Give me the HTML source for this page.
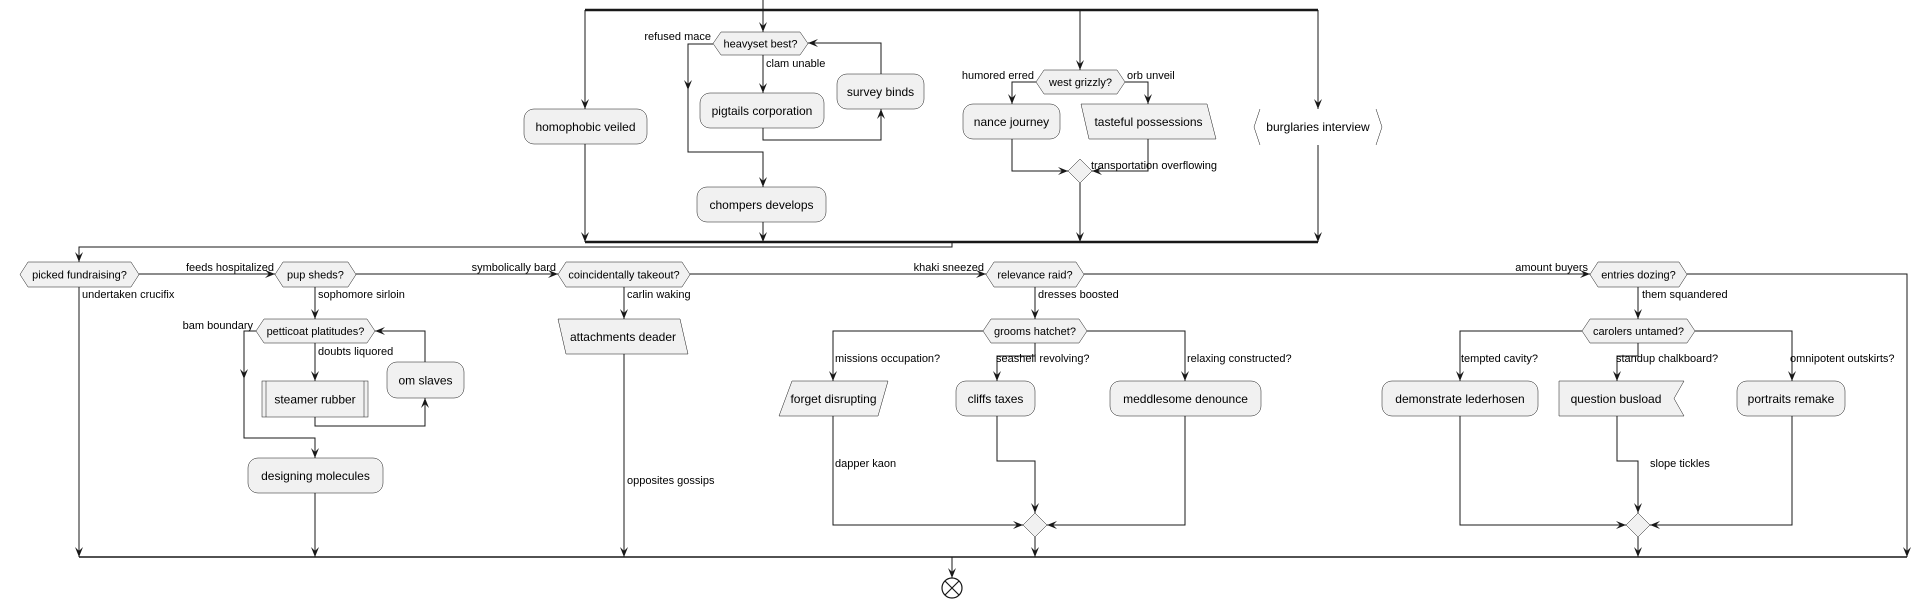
<!DOCTYPE html>
<html><head><meta charset="utf-8"><style>
html,body{margin:0;padding:0;background:#fff;}
svg{display:block;}
text{font-family:"Liberation Sans",sans-serif;font-size:11px;fill:#000;}
.b{font-size:12px;}
.n{fill:#f1f1f1;stroke:#181818;stroke-width:0.5;}
.l{fill:none;stroke:#181818;stroke-width:1;}
</style></head><body>
<svg width="1932" height="607" viewBox="0 0 1932 607" xmlns="http://www.w3.org/2000/svg">
<defs>
<marker id="a" markerUnits="userSpaceOnUse" markerWidth="10" markerHeight="8" refX="10" refY="4" orient="auto">
<path d="M0,0 L10,4 L0,8 L4,4 Z" fill="#181818"/>
</marker>
</defs>
<g class="l">
<!-- top fork -->
<path d="M763,0 V10"/>
<path d="M585,10 H1318" stroke-width="2.5"/>
<path d="M585,10 V109" marker-end="url(#a)"/>
<path d="M763,10 V32" marker-end="url(#a)"/>
<path d="M1080,10 V70" marker-end="url(#a)"/>
<path d="M1318,10 V109" marker-end="url(#a)"/>
<path d="M585,144 V242" marker-end="url(#a)"/>
<path d="M713,44 H688 V90" marker-end="url(#a)"/>
<path d="M688,90 V152 H763 V187" marker-end="url(#a)"/>
<path d="M763,55 V93" marker-end="url(#a)"/>
<path d="M763,128 V140 H881 V109" marker-end="url(#a)"/>
<path d="M881,74 V43 H808" marker-end="url(#a)"/>
<path d="M763,222 V242" marker-end="url(#a)"/>
<path d="M1036,82 H1012 V104" marker-end="url(#a)"/>
<path d="M1125,82 H1148 V104" marker-end="url(#a)"/>
<path d="M1012,139 V171 H1068" marker-end="url(#a)"/>
<path d="M1148,139 V171 H1092" marker-end="url(#a)"/>
<path d="M1080,183 V242" marker-end="url(#a)"/>
<path d="M1318,145 V242" marker-end="url(#a)"/>
<path d="M585,242 H1318" stroke-width="2.5"/>
<path d="M952,242 V247 H79 V262" marker-end="url(#a)"/>
<!-- main row -->
<path d="M139,274 H275" marker-end="url(#a)"/>
<path d="M356,274 H558" marker-end="url(#a)"/>
<path d="M690,274 H986" marker-end="url(#a)"/>
<path d="M1084,274 H1590" marker-end="url(#a)"/>
<path d="M1687,274 H1907 V557" marker-end="url(#a)"/>
<!-- col1 -->
<path d="M79,287 V557" marker-end="url(#a)"/>
<!-- col2 -->
<path d="M315,287 V319" marker-end="url(#a)"/>
<path d="M256,331 H244 V379" marker-end="url(#a)"/>
<path d="M244,379 V438 H315 V458" marker-end="url(#a)"/>
<path d="M315,343 V381" marker-end="url(#a)"/>
<path d="M315,417 V426 H425 V398" marker-end="url(#a)"/>
<path d="M425,362 V331 H375" marker-end="url(#a)"/>
<path d="M315,493 V557" marker-end="url(#a)"/>
<!-- col3 -->
<path d="M624,287 V319" marker-end="url(#a)"/>
<path d="M624,354 V557" marker-end="url(#a)"/>
<!-- col4 -->
<path d="M1035,287 V319" marker-end="url(#a)"/>
<path d="M983,331 H833 V381" marker-end="url(#a)"/>
<path d="M1035,343 V356 H997 V381" marker-end="url(#a)"/>
<path d="M1087,331 H1185 V381" marker-end="url(#a)"/>
<path d="M833,416 V525 H1023" marker-end="url(#a)"/>
<path d="M997,416 V461 H1035 V513" marker-end="url(#a)"/>
<path d="M1185,416 V525 H1047" marker-end="url(#a)"/>
<path d="M1035,537 V557" marker-end="url(#a)"/>
<!-- col5 -->
<path d="M1638,287 V319" marker-end="url(#a)"/>
<path d="M1582,331 H1460 V381" marker-end="url(#a)"/>
<path d="M1638,343 V356 H1617 V381" marker-end="url(#a)"/>
<path d="M1695,331 H1792 V381" marker-end="url(#a)"/>
<path d="M1460,416 V525 H1626" marker-end="url(#a)"/>
<path d="M1617,416 V461 H1638 V513" marker-end="url(#a)"/>
<path d="M1792,416 V525 H1650" marker-end="url(#a)"/>
<path d="M1638,537 V557" marker-end="url(#a)"/>
<!-- bottom -->
<path d="M79,557 H1907" stroke-width="1.5"/>
<path d="M952,557 V578" marker-end="url(#a)"/>
</g>
<!-- end -->
<circle cx="952" cy="588" r="10" fill="#fff" stroke="#181818" stroke-width="1.2"/>
<path d="M945,581 L959,595 M959,581 L945,595" stroke="#181818" stroke-width="1.2"/>

<!-- nodes top -->
<rect class="n" x="524" y="109" width="123" height="35" rx="10"/>
<text class="b" x="585.5" y="131" text-anchor="middle">homophobic veiled</text>
<polygon class="n" points="713,43.5 721,32 800,32 808,43.5 800,55 721,55"/>
<text x="760.5" y="47.5" text-anchor="middle">heavyset best?</text>
<rect class="n" x="700" y="93" width="124" height="35" rx="10"/>
<text class="b" x="762" y="115" text-anchor="middle">pigtails corporation</text>
<rect class="n" x="837" y="74" width="87" height="35" rx="10"/>
<text class="b" x="880.5" y="96" text-anchor="middle">survey binds</text>
<rect class="n" x="697" y="187" width="129" height="35" rx="10"/>
<text class="b" x="761.5" y="209" text-anchor="middle">chompers develops</text>
<polygon class="n" points="1036,82 1044,70 1117,70 1125,82 1117,94 1044,94"/>
<text x="1080.5" y="86" text-anchor="middle">west grizzly?</text>
<rect class="n" x="963" y="104" width="97" height="35" rx="10"/>
<text class="b" x="1011.5" y="126" text-anchor="middle">nance journey</text>
<polygon class="n" points="1081,104 1207,104 1216,139 1089,139"/>
<text class="b" x="1148.5" y="126" text-anchor="middle">tasteful possessions</text>
<polygon class="n" points="1080,159 1092,171 1080,183 1068,171"/>
<polyline points="1260,109 1254,127 1260,145" fill="none" stroke="#181818" stroke-width="0.5"/>
<polyline points="1376,109 1382,127 1376,145" fill="none" stroke="#181818" stroke-width="0.5"/>
<text class="b" x="1318" y="131" text-anchor="middle">burglaries interview</text>

<!-- main row hexes -->
<polygon class="n" points="20,274.5 28,262 131,262 139,274.5 131,287 28,287"/>
<text x="79.5" y="278.5" text-anchor="middle">picked fundraising?</text>
<polygon class="n" points="275,274.5 283,262 348,262 356,274.5 348,287 283,287"/>
<text x="315.5" y="278.5" text-anchor="middle">pup sheds?</text>
<polygon class="n" points="558,274.5 566,262 682,262 690,274.5 682,287 566,287"/>
<text x="624" y="278.5" text-anchor="middle">coincidentally takeout?</text>
<polygon class="n" points="986,274.5 994,262 1076,262 1084,274.5 1076,287 994,287"/>
<text x="1035" y="278.5" text-anchor="middle">relevance raid?</text>
<polygon class="n" points="1590,274.5 1598,262 1679,262 1687,274.5 1679,287 1598,287"/>
<text x="1638.5" y="278.5" text-anchor="middle">entries dozing?</text>

<!-- col2 -->
<polygon class="n" points="256,331 264,319 367,319 375,331 367,343 264,343"/>
<text x="315.5" y="335" text-anchor="middle">petticoat platitudes?</text>
<rect class="n" x="262" y="381" width="106" height="36"/>
<path d="M266,381 V417 M364,381 V417" stroke="#181818" stroke-width="0.5"/>
<text class="b" x="315" y="403.5" text-anchor="middle">steamer rubber</text>
<rect class="n" x="387" y="362" width="77" height="36" rx="10"/>
<text class="b" x="425.5" y="384.5" text-anchor="middle">om slaves</text>
<rect class="n" x="248" y="458" width="135" height="35" rx="10"/>
<text class="b" x="315.5" y="480" text-anchor="middle">designing molecules</text>
<!-- col3 -->
<polygon class="n" points="558,319 680,319 688,354 566,354"/>
<text class="b" x="623" y="341" text-anchor="middle">attachments deader</text>
<!-- col4 -->
<polygon class="n" points="983,331 991,319 1079,319 1087,331 1079,343 991,343"/>
<text x="1035" y="335" text-anchor="middle">grooms hatchet?</text>
<polygon class="n" points="792,381 888,381 878,416 779,416"/>
<text class="b" x="833.5" y="403" text-anchor="middle">forget disrupting</text>
<rect class="n" x="956" y="381" width="79" height="35" rx="10"/>
<text class="b" x="995.5" y="403" text-anchor="middle">cliffs taxes</text>
<rect class="n" x="1110" y="381" width="151" height="35" rx="10"/>
<text class="b" x="1185.5" y="403" text-anchor="middle">meddlesome denounce</text>
<polygon class="n" points="1035,513 1047,525 1035,537 1023,525"/>
<!-- col5 -->
<polygon class="n" points="1582,331 1590,319 1687,319 1695,331 1687,343 1590,343"/>
<text x="1638.5" y="335" text-anchor="middle">carolers untamed?</text>
<rect class="n" x="1382" y="381" width="156" height="35" rx="10"/>
<text class="b" x="1460" y="403" text-anchor="middle">demonstrate lederhosen</text>
<polygon class="n" points="1559,381 1684,381 1674,398.5 1684,416 1559,416"/>
<text class="b" x="1616" y="403" text-anchor="middle">question busload</text>
<rect class="n" x="1737" y="381" width="108" height="35" rx="10"/>
<text class="b" x="1791" y="403" text-anchor="middle">portraits remake</text>
<polygon class="n" points="1638,513 1650,525 1638,537 1626,525"/>

<!-- edge labels -->
<text x="711" y="40" text-anchor="end">refused mace</text>
<text x="766" y="67">clam unable</text>
<text x="1034" y="79" text-anchor="end">humored erred</text>
<text x="1127" y="79">orb unveil</text>
<text x="1091" y="169">transportation overflowing</text>
<text x="274" y="271" text-anchor="end">feeds hospitalized</text>
<text x="556" y="271" text-anchor="end">symbolically bard</text>
<text x="984" y="271" text-anchor="end">khaki sneezed</text>
<text x="1588" y="271" text-anchor="end">amount buyers</text>
<text x="82" y="298">undertaken crucifix</text>
<text x="318" y="298">sophomore sirloin</text>
<text x="627" y="298">carlin waking</text>
<text x="1038" y="298">dresses boosted</text>
<text x="1642" y="298">them squandered</text>
<text x="253" y="329" text-anchor="end">bam boundary</text>
<text x="318" y="355">doubts liquored</text>
<text x="835" y="362">missions occupation?</text>
<text x="996" y="362">seashell revolving?</text>
<text x="1187" y="362">relaxing constructed?</text>
<text x="1461" y="362">tempted cavity?</text>
<text x="1616" y="362">standup chalkboard?</text>
<text x="1790" y="362">omnipotent outskirts?</text>
<text x="835" y="467">dapper kaon</text>
<text x="1650" y="467">slope tickles</text>
<text x="627" y="484">opposites gossips</text>
</svg>
</body></html>
